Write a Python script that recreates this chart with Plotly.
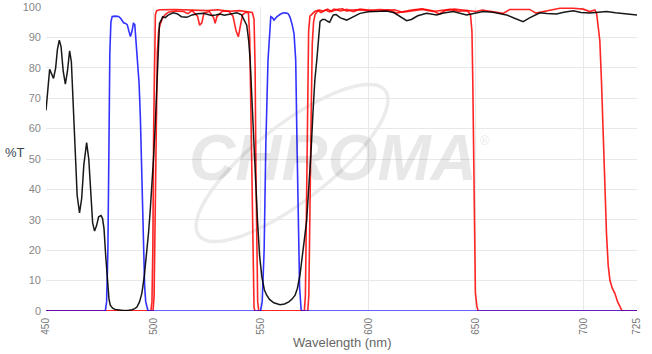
import math
import plotly.graph_objects as go

# ---------------- data ----------------
black_x = [450, 450.8, 451.7, 452.6, 453.5, 454.5, 455.3, 456.2, 457, 458, 459, 460, 461, 461.8, 462.6,
           463.5, 464.5, 465.6, 466.6, 467.6, 468.9, 469.9, 470.8, 471.7, 472.6, 473.5, 474.5, 475.6,
           476.3, 477, 477.8, 478.6, 479.3, 479.9, 481, 482.2, 484, 486, 488, 490, 491.3, 492.3, 493.5,
           494.6, 495.7, 496.7, 497.7, 498.5, 499.3, 500.1, 500.8, 501.4, 501.9, 502.4, 502.8, 503.5,
           504.3, 505.5, 507, 509.2, 511, 513, 515.5, 518, 520.5, 523.3, 525, 527, 529, 531, 533, 535,
           538.8, 541, 542.5, 543.4, 544.3, 545, 545.8, 546.6, 547.5, 548.4, 549.4, 550.5, 551.6, 552.7,
           554, 556, 558.9, 561, 563, 564.6, 565.9, 567, 568.2, 569.4, 570.3, 571.3, 572.3, 573.3, 574.2,
           575.1, 576, 576.8, 577.5, 578.6, 579.8, 581, 582, 583, 583.7, 585, 587, 589.9, 592, 594, 596.1,
           600, 604, 608.5, 612, 615, 617.8, 620, 623, 627.1, 631.8, 635, 639.5, 645.7, 650, 653.4, 658,
           664.3, 668, 672, 675, 679.8, 683, 687.5, 691, 695.3, 699, 703, 707, 710.8, 715, 720, 725]
black_y = [66, 74, 79.5, 78, 76.5, 80, 86, 89.1, 87, 79, 74.6, 79, 85.6, 82, 70,
           52, 38, 32.3, 37, 48, 55.4, 50, 38, 29, 26.3, 28, 31, 31.4,
           30.5, 27, 18, 9, 4, 1.9, 0.9, 0.5, 0.3, 0.2, 0.2, 0.4, 0.8, 1.3, 3,
           5.8, 11.2, 18, 25.6, 33, 40.8, 51, 60.6, 72, 83.6, 90, 94.6, 95.5,
           96.8, 96.5, 97.4, 98.1, 97.8, 96.8, 96.6, 97.4, 97.8, 97.9, 97.5, 97.2, 97.4, 97.7, 97.3, 97.6,
           98.1, 97.4, 95.5, 94, 89, 82.5, 70, 57, 43, 29.9, 18, 11, 7, 5.2,
           3.8, 2.7, 2.1, 2.3, 3, 4, 5.2, 7.5, 12, 18, 24, 29.9, 40, 52, 65,
           76, 82.5, 91, 95.2, 95.9, 95.9, 95.3, 95, 96.5, 97.4, 97.5, 96.4, 95.7, 96.4, 97.3, 97.9,
           98.4, 98.5, 98.7, 98.1, 96.7, 95.5, 95.9, 97.1, 97.9, 97.4, 98, 98.5, 97.4, 98, 98.5, 98.3,
           97.4, 96.3, 95.2, 96.4, 98.1, 97.9, 97.7, 98.3, 98.8, 98.2, 98, 98.3, 98.5, 98.1, 97.8, 97.4]

blue_x = [450, 477.6, 478.2, 478.8, 479.3, 479.7, 480.2, 480.8, 482.2, 483.8, 484.8, 486.1, 487, 487.8,
          488.6, 489.3, 490, 490.7, 491.3, 492, 492.6, 493.3, 493.9, 494.4, 494.9, 495.4, 495.9, 496.4,
          497, 497.5, 549.8, 550.6, 551.5, 552.3, 553.3, 554, 554.6, 555.3, 556.1, 556.8, 557.4, 559,
          560.5, 562, 562.8, 563.6, 564.4, 565.4, 566.2, 566.8, 567.4, 568, 568.7, 569.2, 725]
blue_y = [0, 0, 3, 20, 55, 85, 95, 96.9, 97, 96.9, 96.2, 94.8, 94.6, 94.2,
          92, 90.3, 92, 94.6, 94.3, 88, 83, 75, 64, 50, 34, 18, 8, 3,
          0.8, 0, 0, 3, 20, 55, 82.5, 93, 96.8, 96.5, 95.7, 96.3, 96.8, 97.6,
          98.1, 98, 97.7, 96.5, 94.6, 91.3, 82.5, 55, 28, 8, 0.5, 0, 0]

red1_x = [450, 498.8, 499.3, 499.7, 500.1, 500.5, 500.9, 501.5, 503, 510, 520, 525, 530, 535, 540, 544,
          546, 546.8, 547.3, 547.7, 548.1, 548.5, 549, 570.2, 570.7, 571.2, 571.7, 572.2, 572.8, 573.8,
          575, 577, 579, 581, 583, 585, 588, 590, 592, 595, 600, 605, 610, 613, 616, 620, 625, 630, 633,
          636, 640, 645, 650, 653, 658, 662.7, 665.8, 670, 675.1, 678, 682.9, 686, 689.1, 695.3, 700,
          703, 705.4, 706.2, 707, 707.7, 708.5, 709.2, 710, 710.8, 711.6, 712.4, 713.5, 714.7, 716, 717,
          718.1, 725]
red1_y = [0, 0, 3, 20, 60, 90, 97.5, 98.8, 99.1, 99.2, 99, 98.8, 99.1, 98.6, 98.8, 98.5,
          98.2, 96, 80, 45, 15, 3, 0, 0, 5, 30, 70, 92, 97, 97.8,
          98.5, 99, 98.7, 99.3, 98.5, 99.2, 99.4, 98.6, 99, 99.1, 98.8, 99.2, 99, 98, 98.4, 99, 99.4, 98.8, 97.7,
          98.9, 99.3, 99, 98.5, 99, 98.5, 97.9, 99.2, 99.3, 99.2, 98, 98.8, 99.3, 99.6, 99.6, 99.3,
          98.5, 99, 97.9, 94, 89, 75, 58.5, 40, 25.6, 15, 10.1, 7.5, 5.8, 3, 1.3,
          0, 0]

red2_x = [450, 499.8, 500.3, 500.8, 501.3, 501.8, 502.4, 503, 504, 505.5, 507, 510, 514, 516, 518, 520.5,
          521.5, 522.5, 523.5, 526, 528, 528.7, 529.5, 532, 535, 537, 538.5, 539.5, 540.5, 541.5, 543,
          544.2, 544.8, 545.3, 545.8, 546.3, 546.8, 547.3, 571.8, 572.3, 572.9, 573.4, 573.9, 574.5,
          575.2, 576.5, 578, 580, 582, 584, 587, 590, 593, 596, 600, 604, 608, 612, 616, 620, 625, 630,
          635, 638, 642, 646, 647.5, 648.2, 648.6, 649, 649.4, 649.8, 650.5, 651.1, 725]
red2_y = [0, 0, 5, 30, 65, 85, 92, 94, 96, 97.5, 98.3, 98.7, 98.5, 97.8, 98.8, 97,
          94, 94.8, 98, 98.5, 96.5, 94.6, 96.8, 98.6, 98.7, 97, 92, 90.2, 94, 97.5, 98.3,
          98, 90, 65, 35, 10, 1, 0, 0, 5, 30, 65, 88, 95,
          97.5, 98.8, 98.2, 99, 98.4, 99.3, 98.7, 99.2, 98.5, 99.3, 99, 98.6, 98.8, 99.1, 98.3, 98.7, 99.2, 98.5,
          98.8, 99.2, 98.6, 98.8, 97.5, 92, 75, 50, 20, 6, 1.5, 0, 0]

x_ticks = [450, 500, 550, 600, 650, 700, 725]
y_ticks = [0, 10, 20, 30, 40, 50, 60, 70, 80, 90, 100]

# ---------------- figure ----------------
W, H = 652, 354
ML, MR, MT, MB = 46, 15, 7, 43
PW, PH = W - ML - MR, H - MT - MB


def to_paper(px, py):
    return (px - ML) / PW, (H - MB - py) / PH


fig = go.Figure()

fig.add_trace(go.Scatter(x=red1_x, y=red1_y, mode="lines",
                         line=dict(color="#ff0000", width=1.6), opacity=0.85, hoverinfo="skip"))
fig.add_trace(go.Scatter(x=red2_x, y=red2_y, mode="lines",
                         line=dict(color="#ff0000", width=1.6), opacity=0.85, hoverinfo="skip"))
fig.add_trace(go.Scatter(x=blue_x, y=blue_y, mode="lines",
                         line=dict(color="#0000ff", width=1.6), opacity=0.8, hoverinfo="skip"))
fig.add_trace(go.Scatter(x=black_x, y=black_y, mode="lines",
                         line=dict(color="#000000", width=1.5), opacity=0.9, hoverinfo="skip"))

# watermark ellipse (decoration)
cx, cy, a, b, th = 292, 163, 118, 38, math.radians(38)
pts = []
for i in range(0, 121):
    t = 2 * math.pi * i / 120
    px = cx + a * math.cos(t) * math.cos(th) + b * math.sin(t) * math.sin(th)
    py = cy - a * math.cos(t) * math.sin(th) + b * math.sin(t) * math.cos(th)
    pts.append(to_paper(px, py))
path = "M " + " L ".join(f"{x:.4f},{y:.4f}" for x, y in pts) + " Z"
fig.add_shape(type="path", path=path, xref="paper", yref="paper",
              line=dict(color="rgba(0,0,0,0.08)", width=3.5), layer="below")

wx, wy = to_paper(333, 158)
fig.add_annotation(text="CHROMA", xref="paper", yref="paper", x=wx, y=wy, showarrow=False,
                   font=dict(family="Liberation Sans", size=64, color="rgba(0,0,0,0.09)",
                             weight="bold", style="italic"))
rx, ry = to_paper(492, 140)
fig.add_annotation(text="®", xref="paper", yref="paper", x=rx, y=ry, showarrow=False,
                   font=dict(family="Liberation Sans", size=13, color="rgba(0,0,0,0.12)"))

# axis titles
tx, ty = to_paper(3, 152)
fig.add_annotation(text="%T", xref="paper", yref="paper", x=tx, y=ty, showarrow=False,
                   xanchor="left", yanchor="middle",
                   font=dict(family="Liberation Sans", size=13, color="#37474f"))
ax, ay = to_paper(342, 343)
fig.add_annotation(text="Wavelength (nm)", xref="paper", yref="paper", x=ax, y=ay, showarrow=False,
                   yanchor="middle",
                   font=dict(family="Liberation Sans", size=13, color="#666666"))

fig.update_layout(
    template="none",
    width=W, height=H, margin=dict(l=ML, r=MR, t=MT, b=MB, autoexpand=False),
    paper_bgcolor="white", plot_bgcolor="white", showlegend=False,
    font=dict(family="Liberation Sans", size=11, color="#666666"),
    xaxis=dict(range=[450, 725], tickmode="array", tickvals=x_ticks,
               ticktext=[str(v) for v in x_ticks], tickangle=-90, automargin=False,
               showgrid=True, gridcolor="#e8e8e8", gridwidth=1, zeroline=False,
               showline=False, ticks="", ticklabelstandoff=4,
               tickfont=dict(size=10, color="#777777")),
    yaxis=dict(range=[0, 100], tickmode="array", tickvals=y_ticks, automargin=False,
               showgrid=True, gridcolor="#e8e8e8", gridwidth=1, zeroline=False,
               showline=False, ticks="", ticklabelstandoff=4,
               tickfont=dict(size=11, color="#888888")),
)

fig.write_html("out.html")
